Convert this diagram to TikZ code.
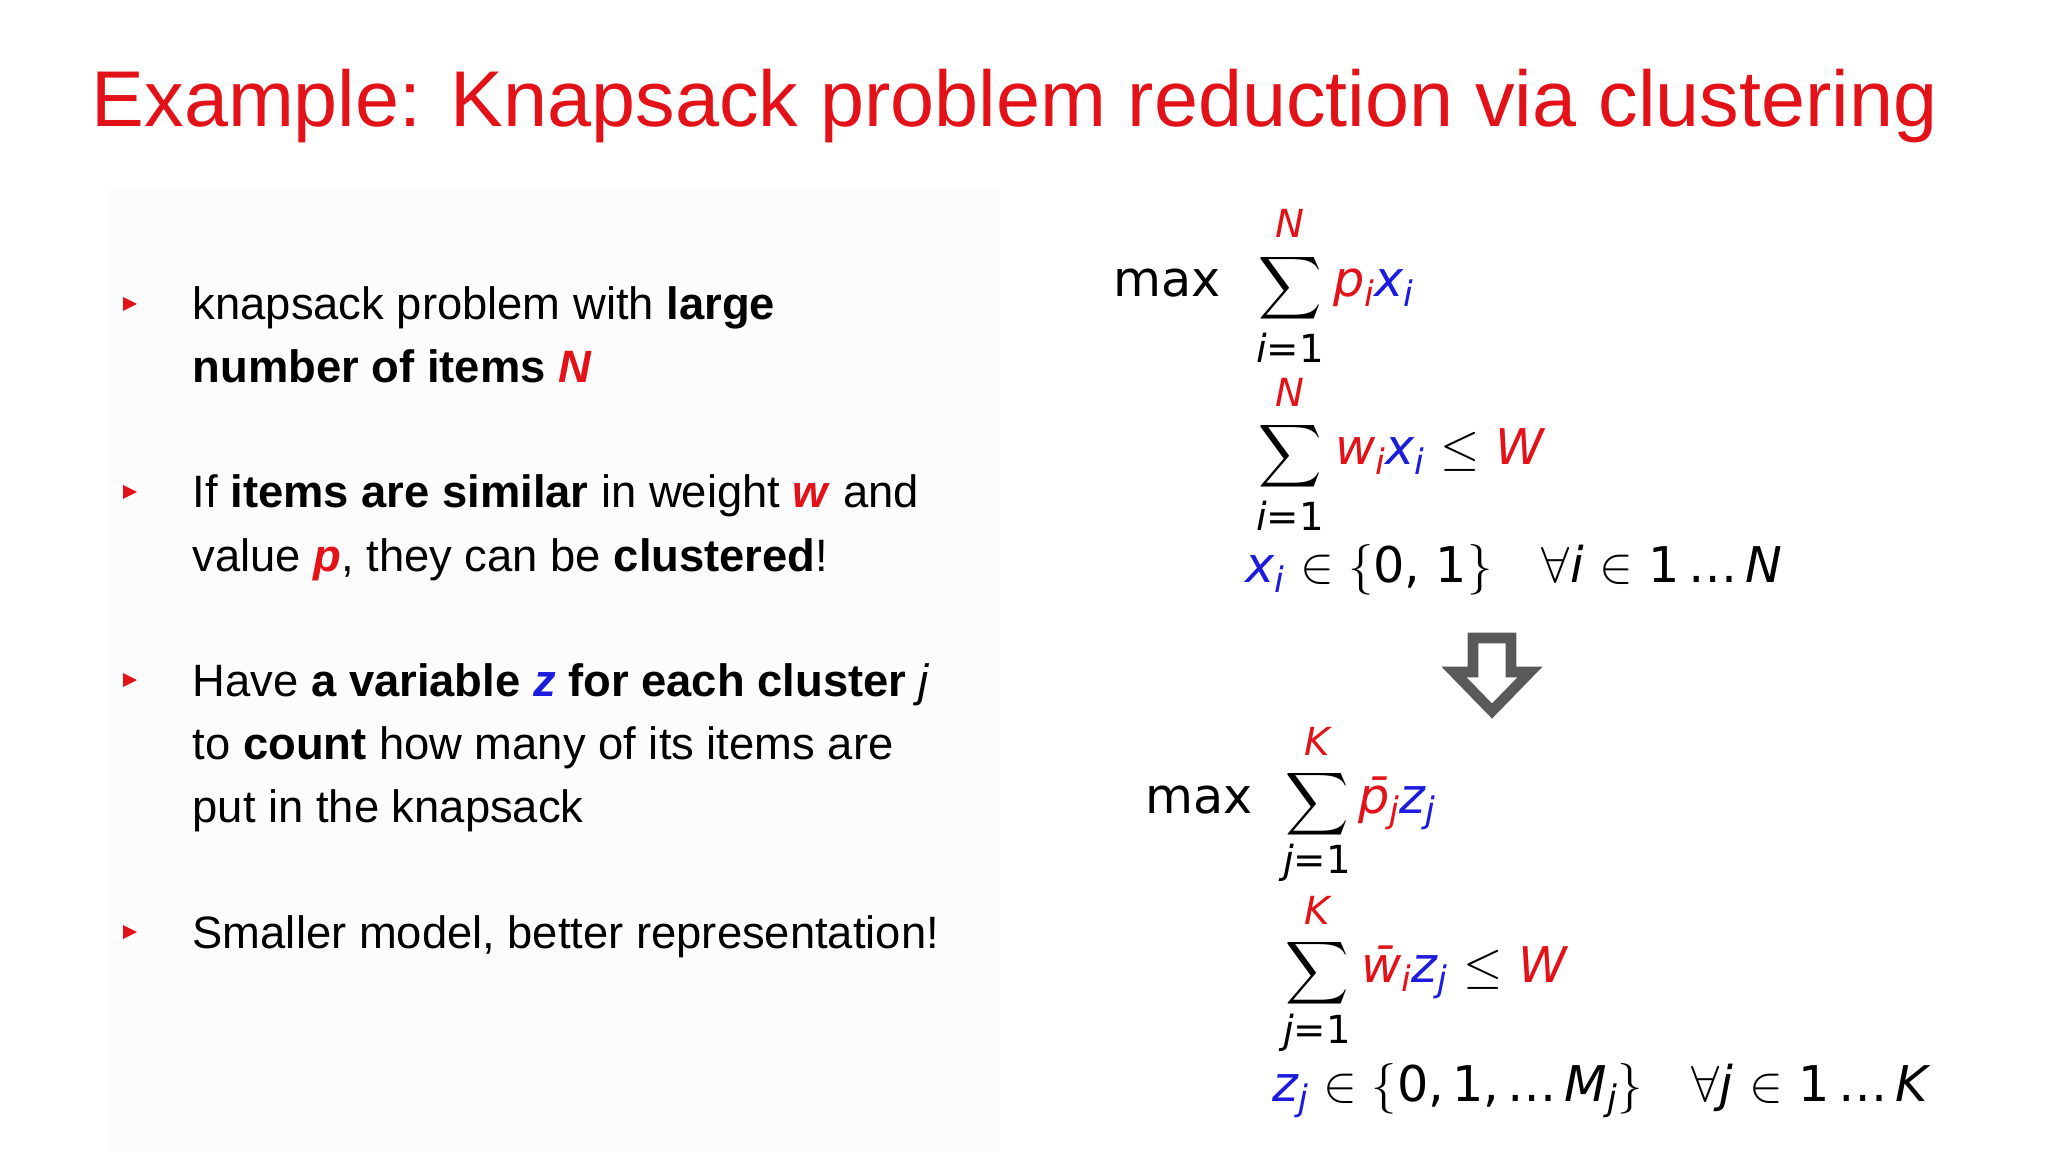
\documentclass[tikz,border=0pt]{standalone}
\usepackage{fontspec}
\usepackage{graphicx}
\setmainfont{Liberation Sans}
\newfontfamily\mf{DejaVu Sans}
\definecolor{tred}{RGB}{226,18,24}
\definecolor{tblue}{RGB}{28,28,220}
\newcommand{\mysb}[1]{\raisebox{-0.35ex}{\fontsize{10}{10}\selectfont #1}}
\newcommand{\R}[1]{\textcolor{tred}{#1}}
\newcommand{\B}[1]{\textcolor{tblue}{#1}}
\newcommand{\bsum}{\scalebox{1.25}{$\displaystyle\sum$}}
\begin{document}
\begin{tikzpicture}[x=0.01cm,y=-0.01cm,
  bodytxt/.style={anchor=base west,inner sep=0,font=\fontsize{12.9}{15}\selectfont},
  mtxt/.style={anchor=base west,inner sep=0,font=\fontsize{14}{16}\mf},
  lim/.style={inner sep=0,font=\fontsize{11}{12}\mf},
  bigsum/.style={inner sep=0},
  bul/.style={fill=tred,draw=none}]
\fill[white] (0,0) rectangle (2048,1152);
\fill[black!1] (110,190) rectangle (1000,1152);
\node[anchor=base west,inner sep=0,text=tred,font=\fontsize{22.5}{26}\selectfont] (title) at (91,127) {Example: Knapsack problem reduction via clustering};
% bullets
\foreach \n/\yy in {b1/304,b2/492,b3/680,b4/932}{
  \fill[bul] (123,\yy-7) -- (137,\yy) -- (123,\yy+7) -- cycle;
}
\node[bodytxt] (l1) at (192,320) {knapsack problem with \textbf{large}};
\node[bodytxt] (l2) at (192,383) {\textbf{number of items \R{\textit{N}}}};
\node[bodytxt] (l3) at (192,508) {If \textbf{items are similar} in weight \R{\textbf{\textit{w}}} and};
\node[bodytxt] (l4) at (192,571) {value \R{\textbf{\textit{p}}}, they can be \textbf{clustered}!};
\node[bodytxt] (l5) at (192,696) {Have \textbf{a variable \B{\textit{z}} for each cluster} \textit{j}};
\node[bodytxt] (l6) at (192,759) {to \textbf{count} how many of its items are};
\node[bodytxt] (l7) at (192,822) {put in the knapsack};
\node[bodytxt] (l8) at (192,948) {Smaller model, better representation!};
% first model
\node[mtxt] (max1) at (1113,297) {max};
\node[bigsum] (s1) at (1290,288) {\bsum};
\node[lim,text=tred] (s1t) at (1290,223) {\itshape N};
\node[lim] (s1b) at (1290,348) {\itshape i\upshape=1};
\node[mtxt] (o1) at (1333,297) {\itshape\R{p\mysb{i}}\B{x\mysb{i}}};
\node[bigsum] (s2) at (1290,456) {\bsum};
\node[lim,text=tred] (s2t) at (1290,392) {\itshape N};
\node[lim] (s2b) at (1290,516) {\itshape i\upshape=1};
\node[mtxt] (c1) at (1335,465) {\R{\itshape w\mysb{i}}\B{\itshape x\mysb{i}} $\leq$ \R{\itshape W}};
\node[mtxt] (d1) at (1245,583) {\B{\itshape x\mysb{i}} $\in\{$0, 1$\}$\quad $\forall$\textit{i} $\in$ 1\,…\,\textit{N}};
% arrow
\draw[line width=3pt,draw=black!65,line join=miter] (1473,638) -- (1511,638) -- (1511,672) -- (1530,672) -- (1492,711) -- (1454,672) -- (1473,672) -- cycle;
% second model
\node[mtxt] (max2) at (1145,813) {max};
\node[bigsum] (s3) at (1317,804) {\bsum};
\node[lim,text=tred] (s3t) at (1317,741) {\itshape K};
\node[lim] (s3b) at (1317,863) {\itshape j\upshape=1};
\node[mtxt] (o2) at (1358,813) {\itshape\R{p̄\mysb{j}}\B{z\mysb{j}}};
\node[bigsum] (s4) at (1317,973) {\bsum};
\node[lim,text=tred] (s4t) at (1317,910) {\itshape K};
\node[lim] (s4b) at (1317,1033) {\itshape j\upshape=1};
\node[mtxt] (c2) at (1361,982) {\R{\itshape w̄\mysb{i}}\B{\itshape z\mysb{j}} $\leq$ \R{\itshape W}};
\node[mtxt] (d2) at (1272,1101) {\B{\itshape z\mysb{j}} $\in\{$0,\,1,\,…\,\textit{M}\mysb{\itshape j}$\}$\quad $\forall$\textit{j} $\in$ 1\,…\,\textit{K}};
\end{tikzpicture}
\end{document}
